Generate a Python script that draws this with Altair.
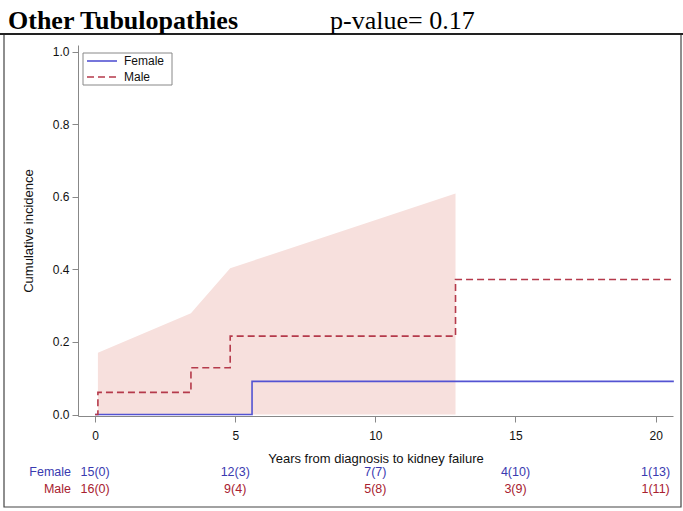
import altair as alt
import pandas as pd

# ---- data ----
female_x = [0.0, 5.6, 20.65]
female_y = [0.0, 0.0915, 0.0915]
male_x = [0.0, 0.10, 3.42, 4.82, 12.86, 20.65]
male_y = [0.0, 0.061, 0.129, 0.216, 0.372, 0.372]
ci_x = [0.10, 3.42, 3.65, 4.82, 12.86]
ci_upper = [0.170, 0.279, 0.300, 0.403, 0.609]
ci_lower = [0.0, 0.0, 0.0, 0.0, 0.0]

risk_years = [0, 5, 10, 15, 20]
female_risk = ["15(0)", "12(3)", "7(7)", "4(10)", "1(13)"]
male_risk = ["16(0)", "9(4)", "5(8)", "3(9)", "1(11)"]

groups = ["Female", "Male"]
title_text = "Other Tubulopathies"
pvalue_text = "p-value= 0.17"

FEMALE_C = "#5353d2"
MALE_C = "#b53a4b"
FEMALE_T = "#3a3ab0"
MALE_T = "#a8212f"
SANS = "Liberation Sans"
SERIF = "Liberation Serif"

W, H = 595, 371
LEFT, TOP = 78, 45

lines = pd.DataFrame(
    {"x": female_x + male_x,
     "y": female_y + male_y,
     "sex": ["Female"] * len(female_x) + ["Male"] * len(male_x)}
)
ci = pd.DataFrame({"x": ci_x, "lo": ci_lower, "hi": ci_upper})
risk_f = pd.DataFrame({"x": risk_years, "t": female_risk})
risk_m = pd.DataFrame({"x": risk_years, "t": male_risk})
one = pd.DataFrame({"a": [0]})

xscale = alt.Scale(domain=[-0.61, 20.62], nice=False, zero=False)
yscale = alt.Scale(domain=[-0.004, 1.018], nice=False, zero=False)

xaxis = alt.Axis(values=[0, 5, 10, 15, 20], title="Years from diagnosis to kidney failure",
                 grid=False, labelPadding=8, tickSize=6, titlePadding=11)
yaxis = alt.Axis(values=[0, 0.2, 0.4, 0.6, 0.8, 1.0], format=".1f", title="Cumulative incidence",
                 grid=False, tickSize=6, labelPadding=3, titlePadding=17)

band = alt.Chart(ci).mark_area(color="#f7e0dd", opacity=1).encode(
    x=alt.X("x:Q", scale=xscale, axis=xaxis),
    y=alt.Y("hi:Q", scale=yscale, axis=yaxis),
    y2="lo:Q",
)

steps = alt.Chart(lines).mark_line(interpolate="step-after", strokeWidth=1.6).encode(
    x=alt.X("x:Q", scale=xscale),
    y=alt.Y("y:Q", scale=yscale),
    color=alt.Color("sex:N", scale=alt.Scale(domain=groups, range=[FEMALE_C, MALE_C]), legend=None),
    strokeDash=alt.StrokeDash("sex:N", scale=alt.Scale(domain=groups, range=[[1, 0], [7, 4]]), legend=None),
)

# legend drawn as a small box
leg_box = alt.Chart(one).mark_rect(fill="white", stroke="#888", strokeWidth=1).encode(
    x=alt.value(83 - LEFT), x2=alt.value(172 - LEFT), y=alt.value(53 - TOP), y2=alt.value(85 - TOP))
leg_f_line = alt.Chart(one).mark_rule(color=FEMALE_C, strokeWidth=1.6).encode(
    x=alt.value(87 - LEFT), x2=alt.value(117 - LEFT), y=alt.value(61 - TOP))
leg_m_line = alt.Chart(one).mark_rule(color=MALE_C, strokeWidth=1.6, strokeDash=[7, 4]).encode(
    x=alt.value(87 - LEFT), x2=alt.value(117 - LEFT), y=alt.value(77 - TOP))
leg_f_txt = alt.Chart(one).mark_text(text=groups[0], font=SANS, fontSize=12, color="#111", align="left",
                                     baseline="middle").encode(x=alt.value(124 - LEFT), y=alt.value(61 - TOP))
leg_m_txt = alt.Chart(one).mark_text(text=groups[1], font=SANS, fontSize=12, color="#111", align="left",
                                     baseline="middle").encode(x=alt.value(124 - LEFT), y=alt.value(77 - TOP))

risk_female = alt.Chart(risk_f).mark_text(font=SANS, fontSize=12.5, color=FEMALE_T, align="center",
                                          baseline="middle").encode(
    x=alt.X("x:Q", scale=xscale), y=alt.value(472 - TOP), text="t:N")
risk_male = alt.Chart(risk_m).mark_text(font=SANS, fontSize=12.5, color=MALE_T, align="center",
                                        baseline="middle").encode(
    x=alt.X("x:Q", scale=xscale), y=alt.value(489 - TOP), text="t:N")

lab_f = alt.Chart(one).mark_text(text=groups[0], font=SANS, fontSize=12.5, color=FEMALE_T, align="right",
                                 baseline="middle").encode(x=alt.value(71 - LEFT), y=alt.value(472 - TOP))
lab_m = alt.Chart(one).mark_text(text=groups[1], font=SANS, fontSize=12.5, color=MALE_T, align="right",
                                 baseline="middle").encode(x=alt.value(71 - LEFT), y=alt.value(489 - TOP))

frame = alt.Chart(one).mark_rect(filled=False, stroke="#444", strokeWidth=1.2).encode(
    x=alt.value(4 - LEFT), x2=alt.value(681 - LEFT), y=alt.value(34 - TOP), y2=alt.value(507 - TOP))
topline = alt.Chart(one).mark_rule(color="#222", strokeWidth=2).encode(
    x=alt.value(0 - LEFT), x2=alt.value(683 - LEFT), y=alt.value(34 - TOP))

t1 = alt.Chart(one).mark_text(text=title_text, font=SERIF, fontSize=26, fontWeight="bold", color="black",
                              align="left", baseline="alphabetic").encode(
    x=alt.value(8 - LEFT), y=alt.value(29 - TOP))
t2 = alt.Chart(one).mark_text(text=pvalue_text, font=SERIF, fontSize=26, color="black",
                              align="left", baseline="alphabetic").encode(
    x=alt.value(330 - LEFT), y=alt.value(29 - TOP))

chart = alt.layer(frame, topline, band, steps, leg_box, leg_f_line, leg_m_line, leg_f_txt, leg_m_txt,
                  risk_female, risk_male, lab_f, lab_m, t1, t2).properties(
    width=W, height=H,
    autosize=alt.AutoSizeParams(type="none"),
    padding={"left": LEFT, "top": TOP, "right": 683 - LEFT - W, "bottom": 511 - TOP - H},
).configure_view(stroke=None).configure_axis(
    domainColor="#888", tickColor="#888", labelColor="#111", titleColor="#111",
    labelFont=SANS, titleFont=SANS, labelFontSize=12, titleFontSize=13, titleFontWeight="normal",
)

chart.save("out.html", embed_options={"renderer": "svg", "actions": False})
